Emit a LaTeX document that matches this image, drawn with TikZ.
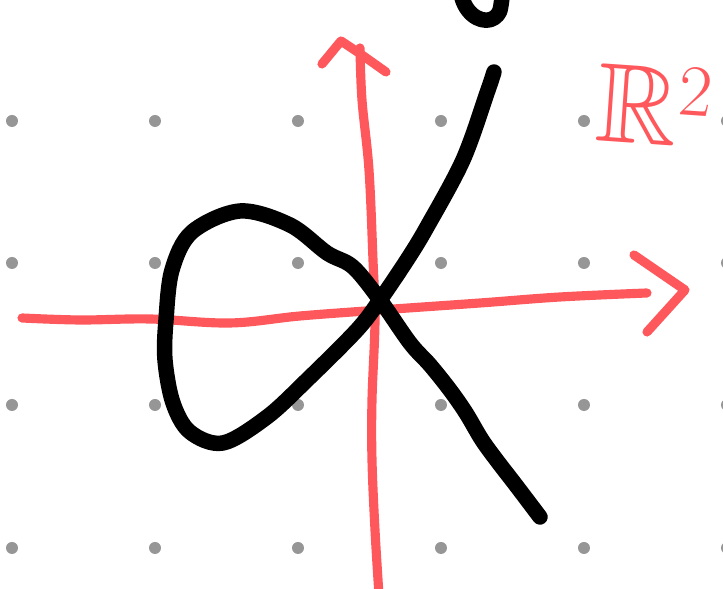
\documentclass[tikz,border=0pt]{standalone}
\usepackage{amsmath,amssymb}
\usepackage{tikz}
\usetikzlibrary{calc}

\definecolor{sketchred}{RGB}{255,88,92}
\definecolor{dotgrey}{RGB}{150,150,150}

\begin{document}
\begin{tikzpicture}[x=0.01cm, y=-0.01cm, line cap=round, line join=round]
    \tikzset{
        griddot/.style={fill=dotgrey, draw=none},
        axisline/.style={draw=sketchred, line width=2.6pt},
        curveline/.style={draw=black, line width=4.4pt},
        spacelabel/.style={text=sketchred, font=\fontsize{32}{32}\selectfont, inner sep=0pt}
    }

    % Canvas
    \useasboundingbox (0,0) rectangle (723,589);
    \clip (0,0) rectangle (723,589);

    % Dot grid
    \foreach \gx in {12,155,298,441,584,727} {
        \foreach \gy in {121,263,405,548} {
            \fill[griddot] (\gx,\gy) circle (6);
        }
    }

    % Horizontal axis
    \draw[axisline] plot[smooth, tension=0.6] coordinates {(22,318) (80,320) (150,319) (230,323) (300,316) (380,310) (480,303) (560,297) (647,293)};
    \draw[axisline] (634,255) -- (685,290) -- (647,332);

    % Vertical axis
    \draw[axisline] plot[smooth, tension=0.6] coordinates {(379,595) (375,530) (372,460) (372,400) (375,320) (373,260) (369,170) (362,100) (360,48)};
    \draw[axisline] (322,64) -- (341,41) -- (362,55) -- (386,72);

    % Nodal cubic
    \draw[curveline] plot[smooth, tension=0.55] coordinates {
        (494,72) (487,93) (463,160) (427,227) (407,260) (380,300)
        (357,330) (307,380) (267,417) (223,443) (190,432) (173,403)
        (165,360) (166,320) (172,270) (192,232) (240,211)
        (290,225) (327,253) (353,267) (380,300) (410,343) (430,365)
        (450,390) (466,413) (482,440) (498,462) (515,484) (540,517)};

    % Cut-off stroke at the top
    \draw[curveline] (462,-2) .. controls (468,18) and (485,24) .. (494,18) .. controls (500,13) .. (502,-2);

    % Label
    \node[spacelabel, anchor=base west, rotate=-4] (plane) at (594,140) {$\mathbb{R}^{2}$};

\end{tikzpicture}
\end{document}
